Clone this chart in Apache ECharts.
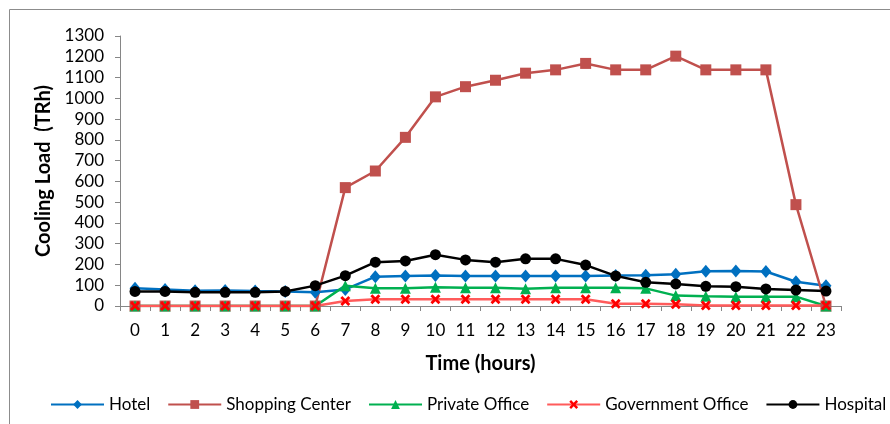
<!DOCTYPE html>
<html><head><meta charset="utf-8">
<script src="https://cdn.jsdelivr.net/npm/echarts@6/dist/echarts.min.js"></script>
<style>html,body{margin:0;padding:0;background:#fff}#c{width:890px;height:424px}</style>
</head><body><div id="c"></div>
<script>
const hours = ['0','1','2','3','4','5','6','7','8','9','10','11','12','13','14','15','16','17','18','19','20','21','22','23'];
const hotel = [85,80,73,75,72,70,66,80,141,145,147,145,145,145,145,145,147,148,153,167,168,166,117,97];
const shopping = [0,0,0,0,0,0,0,570,650,812,1007,1056,1087,1121,1137,1168,1137,1137,1203,1137,1137,1137,488,0];
const privateOffice = [0,0,0,0,0,0,0,98,85,85,90,88,88,83,88,88,88,85,50,47,45,45,45,0];
const government = [0,0,0,0,0,0,0,24,32,32,32,32,32,32,32,32,11,11,8,3,3,3,3,3];
const hospital = [70,70,66,66,66,70,98,146,211,217,247,222,211,227,227,197,145,114,106,95,93,82,77,72];
const yTicks = {min:0,max:1300,interval:100};

const font = 'Lato, "Open Sans", sans-serif';
const chart = echarts.init(document.getElementById('c'), null, {renderer:'canvas'});
function s(name, data, color, lineColor, symbol, size, extra) {
  return Object.assign({
    name, type:'line', data, symbol, symbolSize:size,
    lineStyle:{color:lineColor, width:2.5},
    itemStyle:{color:color, borderColor:color, borderWidth:0},
    animation:false
  }, extra||{});
}
const crossPath = 'path://M2,0 L5,3 L8,0 L10,2 L7,5 L10,8 L8,10 L5,7 L2,10 L0,8 L3,5 L0,2 Z';
chart.setOption({
  animation:false,
  grid:{left:120, right:49, top:36, bottom:118},
  graphic:[{type:'rect', shape:{x:9.5,y:9.5,width:900,height:430}, style:{fill:'none', stroke:'#8c8c8c', lineWidth:1}, silent:true}],
  legend:{
    bottom:11, left:50, width:880, padding:0, itemWidth:53, itemHeight:11, itemGap:17,
    textStyle:{fontFamily:font, fontSize:17, color:'#000'},
    data:['Hotel','Shopping Center','Private Office','Government Office','Hospital']
  },
  xAxis:{
    type:'category', data:hours, boundaryGap:true,
    name:'Time (hours)', nameLocation:'middle', nameGap:48,
    nameTextStyle:{fontFamily:font, fontSize:20, fontWeight:'bold', color:'#000'},
    axisLine:{lineStyle:{color:'#868686', width:1}},
    axisTick:{show:true, length:5, alignWithLabel:false, lineStyle:{color:'#868686'}},
    axisLabel:{fontFamily:font, fontSize:17, color:'#000', margin:16}
  },
  yAxis:{
    type:'value', min:yTicks.min, max:yTicks.max, interval:yTicks.interval,
    name:'Cooling Load  (TRh)', nameLocation:'middle', nameGap:66, nameRotate:90,
    nameTextStyle:{fontFamily:font, fontSize:20, fontWeight:'bold', color:'#000'},
    axisLine:{show:true, lineStyle:{color:'#868686', width:1}},
    axisTick:{show:true, length:5, lineStyle:{color:'#868686'}},
    splitLine:{show:false},
    axisLabel:{fontFamily:font, fontSize:17, color:'#000', margin:16, formatter:v=>String(v)}
  },
  series:[
    s('Hotel', hotel, '#0070C0', '#0070C0', 'diamond', [11,13]),
    s('Shopping Center', shopping, '#C0504D', '#C0504D', 'rect', 11),
    s('Private Office', privateOffice, '#00B050', '#00B050', 'triangle', 11),
    s('Government Office', government, '#FF0000', '#FF5B5B', crossPath, 10),
    s('Hospital', hospital, '#000000', '#000000', 'circle', 11)
  ]
});
</script></body></html>
